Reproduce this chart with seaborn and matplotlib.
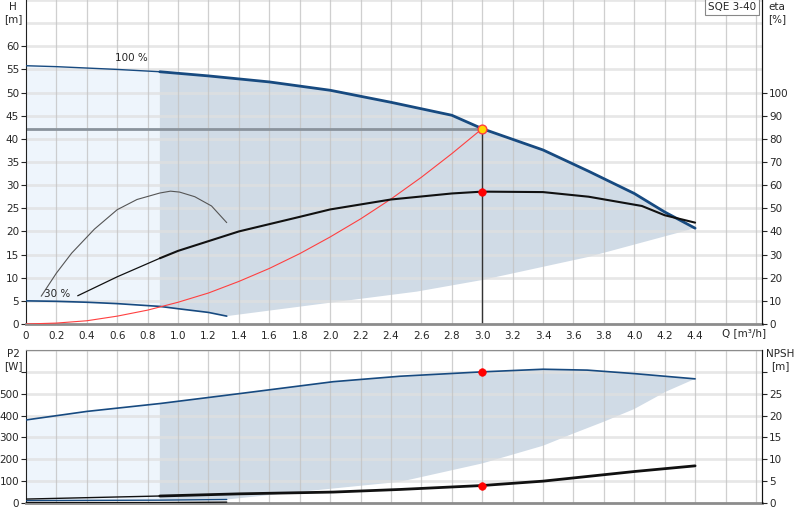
import numpy as np
import matplotlib
matplotlib.use("Agg")
import matplotlib.pyplot as plt
import matplotlib.transforms as mtransforms
import seaborn as sns

sns.set_style("white")
plt.rcParams['font.family'] = ['DejaVu Sans']

# --- head curves (H in m) ---
q_h100 = [0, 0.2, 0.4, 0.6, 0.88, 1.2, 1.6, 2.0, 2.4, 2.8, 3.0, 3.4, 3.7, 4.0, 4.2, 4.4]
h_100 = [55.8, 55.6, 55.3, 55.0, 54.5, 53.6, 52.3, 50.5, 47.9, 45.1, 42.2, 37.6, 33.0, 28.2, 24.2, 20.7]
q_h30 = [0, 0.2, 0.4, 0.6, 0.88, 1.0, 1.2, 1.32]
h_30 = [5.0, 4.9, 4.7, 4.4, 3.8, 3.3, 2.5, 1.7]
q_hmin = [1.32, 2.0, 2.57, 3.0, 3.7, 4.4]
h_min = [1.7, 4.6, 7.0, 9.5, 14.5, 20.7]

# --- system curve ---
q_sys = [0, 0.2, 0.4, 0.6, 0.8, 1.0, 1.2, 1.4, 1.6, 1.8, 2.0, 2.2, 2.4, 2.6, 2.8, 3.0]
h_sys = [0, 0.2, 0.7, 1.7, 3.0, 4.7, 6.7, 9.2, 12.0, 15.2, 18.8, 22.7, 27.0, 31.7, 36.8, 42.2]

# --- efficiency (%) ---
q_eta = [0.34, 0.6, 0.88, 1.0, 1.4, 1.8, 2.0, 2.4, 2.8, 3.0, 3.4, 3.7, 4.05, 4.2, 4.4]
eta_100 = [12.2, 20.4, 28.4, 31.6, 40.0, 46.3, 49.5, 53.8, 56.4, 57.2, 57.0, 55.0, 51.0, 47.0, 43.8]
q_eta30 = [0.10, 0.20, 0.30, 0.45, 0.6, 0.73, 0.88, 0.95, 1.01, 1.11, 1.22, 1.32]
eta_30 = [12.0, 22.0, 30.6, 41.0, 49.4, 53.8, 56.6, 57.4, 57.0, 55.0, 51.0, 43.8]

# --- power P2 (W) ---
q_p2 = [0, 0.4, 0.88, 1.41, 2.02, 2.46, 3.0, 3.4, 3.69, 4.0, 4.4]
p2_100 = [380, 419, 455, 501, 555, 580, 600, 612, 608, 592, 568]
q_p2_30 = [0, 0.88, 1.32]
p2_30 = [11, 13, 16]
q_p2min = [1.32, 1.8, 2.46, 3.0, 3.4, 3.6, 3.8, 4.0, 4.21, 4.4]
p2_min = [16, 51, 97, 181, 262, 318, 372, 430, 510, 568]

# --- NPSH (m) ---
q_npsh = [0, 0.88, 1.41, 2.02, 2.46, 3.0, 3.4, 4.0, 4.4]
npsh_100 = [0.9, 1.6, 2.1, 2.5, 3.1, 4.0, 5.0, 7.2, 8.5]
q_npsh30 = [0, 0.88, 1.32]
npsh_30 = [0.1, 0.1, 0.2]

duty_q, duty_h, duty_eta, duty_p2, duty_npsh = 3.0, 42.2, 57.2, 600, 4.0
q_split = 0.88

x_ticks = [0, 0.2, 0.4, 0.6, 0.8, 1.0, 1.2, 1.4, 1.6, 1.8, 2.0, 2.2, 2.4, 2.6, 2.8,
           3.0, 3.2, 3.4, 3.6, 3.8, 4.0, 4.2, 4.4]

BLUE = '#174a80'
LIGHT = '#eef5fc'
DARK = '#d0dbe6'
FS = 7.5

fig = plt.figure(figsize=(8, 5.2), dpi=100)
ax = fig.add_axes([26/800, 196/520, 736/800, 324/520])
ax_eta = ax.twinx()
bx = fig.add_axes([26/800, 17/520, 736/800, 153/520])
bx_np = bx.twinx()


def split(qs, vs, upto=True):
    qs, vs = np.array(qs), np.array(vs)
    m = qs <= q_split if upto else qs >= q_split
    return qs[m], vs[m]


def setup(a, ymax, hlines):
    a.set_xlim(0, 4.84)
    a.set_ylim(0, ymax)
    for y in hlines:
        a.axhline(y, color='#e0e0e0', lw=2.0, alpha=0.75, zorder=1.5)
    for x in np.arange(0.2, 4.81, 0.2):
        a.axvline(x, color='#c4c4c4', lw=0.9, alpha=0.8, zorder=1.5)
    a.spines['top'].set_visible(False)
    a.spines['left'].set_color('#222222')
    a.spines['bottom'].set_color('#8c8c8c')
    a.spines['bottom'].set_linewidth(2)
    a.tick_params(axis='y', direction='out', length=3.5, width=0.8, labelsize=FS, pad=1.5)


def right_axis(a):
    a.tick_params(axis='y', direction='out', length=3.5, width=0.8, labelsize=FS, pad=1.5)
    a.spines['right'].set_color('#111111')
    for s in ['top', 'left', 'bottom']:
        a.spines[s].set_visible(False)


# ---------------- top chart ----------------
setup(ax, 70, np.arange(5, 71, 5))
ax.set_yticks(np.arange(0, 61, 5))
ax.set_xticks(x_ticks)
ax.set_xticklabels([f'{v:.1f}' if v else '0' for v in x_ticks])
ax.tick_params(axis='x', direction='out', length=3, width=0.8, labelsize=FS, pad=2)

qa, ha = split(q_h100, h_100)
qb, hb = split(q_h30, h_30)
ax.fill(np.r_[qa, qb[::-1]], np.r_[ha, hb[::-1]], color=LIGHT, lw=0, zorder=1)
qa, ha = split(q_h100, h_100, False)
qb, hb = split(q_h30, h_30, False)
ax.fill(np.r_[qa, q_hmin[::-1], qb[::-1]], np.r_[ha, h_min[::-1], hb[::-1]],
        color=DARK, lw=0, zorder=1)

qa, ha = split(q_h100, h_100)
sns.lineplot(x=qa, y=ha, ax=ax, color=BLUE, lw=1.0, zorder=3)
qa, ha = split(q_h100, h_100, False)
sns.lineplot(x=qa, y=ha, ax=ax, color=BLUE, lw=2.0, zorder=3)
sns.lineplot(x=q_h30, y=h_30, ax=ax, color=BLUE, lw=1.2, zorder=3)
sns.lineplot(x=q_sys, y=h_sys, ax=ax, color='#ff4040', lw=0.8, zorder=4)

ax.plot([0, duty_q], [duty_h, duty_h], color='#8a939c', lw=2, zorder=2.5)
ax.plot([duty_q, duty_q], [0, duty_h], color='#333333', lw=1, zorder=2.5)
ax.text(0.585, 57.4, '100 %', fontsize=FS, va='center', zorder=5)
ax.text(0.12, 6.5, '30 %', fontsize=FS, va='center', zorder=5)

trans = mtransforms.blended_transform_factory(ax.transData, ax.transAxes)
ax.text(4.58, -0.012, 'Q [m³/h]', transform=trans, fontsize=FS, va='top', ha='left')
ax.text(0.992, 0.994, 'SQE 3-40', transform=ax.transAxes, fontsize=FS, va='top', ha='right',
        zorder=6, bbox=dict(boxstyle='square,pad=0.3', fc='white', ec='#888888', lw=0.8))

ax_eta.set_ylim(0, 140)
ax_eta.set_yticks(np.arange(0, 101, 10))
right_axis(ax_eta)
qa, ea = split(q_eta, eta_100)
sns.lineplot(x=qa, y=ea, ax=ax_eta, color='#111111', lw=0.9)
qa, ea = split(q_eta, eta_100, False)
sns.lineplot(x=qa, y=ea, ax=ax_eta, color='#111111', lw=1.5)
sns.lineplot(x=q_eta30, y=eta_30, ax=ax_eta, color='#555555', lw=0.8)
sns.scatterplot(x=[duty_q], y=[duty_eta], ax=ax_eta, color='red', s=30, edgecolor='red', zorder=6)
sns.scatterplot(x=[duty_q], y=[duty_h * 2], ax=ax_eta, color='#ffd700', s=40,
                edgecolor='#ff4040', linewidth=1, zorder=6)
ax_eta.set_xlim(0, 4.84)
for a in (ax, ax_eta):
    a.set_xlabel('')
    a.set_ylabel('')

# ---------------- bottom chart ----------------
setup(bx, 700, np.arange(100, 701, 100))
bx.set_yticks(np.arange(0, 601, 100))
bx.set_yticklabels([str(v) if v <= 500 else '' for v in range(0, 601, 100)])
bx.set_xticks([])
bx.spines['top'].set_visible(True)
bx.spines['top'].set_color('#8c8c8c')

qa, pa = split(q_p2, p2_100)
qb, pb = split(q_p2_30, p2_30)
bx.fill(np.r_[qa, qb[::-1]], np.r_[pa, pb[::-1]], color=LIGHT, lw=0, zorder=1)
qa, pa = split(q_p2, p2_100, False)
qb, pb = split(q_p2_30, p2_30, False)
bx.fill(np.r_[qa, q_p2min[::-1], qb[::-1]], np.r_[pa, p2_min[::-1], pb[::-1]],
        color=DARK, lw=0, zorder=1)
sns.lineplot(x=q_p2, y=p2_100, ax=bx, color=BLUE, lw=1.2, zorder=3)
sns.lineplot(x=q_p2_30, y=p2_30, ax=bx, color=BLUE, lw=1.0, zorder=3)
sns.scatterplot(x=[duty_q], y=[duty_p2], ax=bx, color='red', s=30, edgecolor='red', zorder=6)
bx.set_xlim(0, 4.84)

bx_np.set_ylim(0, 35)
bx_np.set_yticks(np.arange(0, 31, 5))
bx_np.set_yticklabels([str(v) if v <= 25 else '' for v in range(0, 31, 5)])
right_axis(bx_np)
qa, na = split(q_npsh, npsh_100)
sns.lineplot(x=qa, y=na, ax=bx_np, color='#111111', lw=1.0)
qa, na = split(q_npsh, npsh_100, False)
sns.lineplot(x=qa, y=na, ax=bx_np, color='#111111', lw=2.0)
sns.lineplot(x=q_npsh30, y=npsh_30, ax=bx_np, color='#111111', lw=1.0)
sns.scatterplot(x=[duty_q], y=[duty_npsh], ax=bx_np, color='red', s=30, edgecolor='red', zorder=6)
bx_np.set_xlim(0, 4.84)
for a in (bx, bx_np):
    a.set_xlabel('')
    a.set_ylabel('')

# axis unit labels
fig.text(13/800, 1 - 2/520, 'H\n[m]', fontsize=FS, ha='center', va='top', linespacing=1.2)
fig.text(777/800, 1 - 2/520, 'eta\n[%]', fontsize=FS, ha='center', va='top', linespacing=1.2)
fig.text(13/800, 1 - 349/520, 'P2\n[W]', fontsize=FS, ha='center', va='top', linespacing=1.2)
fig.text(780/800, 1 - 349/520, 'NPSH\n[m]', fontsize=FS, ha='center', va='top', linespacing=1.2)

fig.savefig('out.png', dpi=100)
